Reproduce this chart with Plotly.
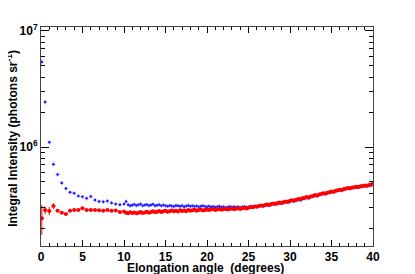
import plotly.graph_objects as go

# Elongation angle bin centres (degrees)
angle = [0.1, 0.5, 1.0, 1.5, 2.0, 2.5, 3.0, 3.5, 4.0, 4.5, 5.0, 5.5, 6.0, 6.5, 7.0, 7.5, 8.0, 8.5, 9.0, 9.5,
         10.0, 10.25, 10.5, 10.75, 11.0, 11.25, 11.5, 11.75, 12.0, 12.25, 12.5, 12.75, 13.0, 13.25, 13.5, 13.75,
         14.0, 14.25, 14.5, 14.75, 15.0, 15.25, 15.5, 15.75, 16.0, 16.25, 16.5, 16.75, 17.0, 17.25, 17.5, 17.75,
         18.0, 18.25, 18.5, 18.75, 19.0, 19.25, 19.5, 19.75, 20.0, 20.25, 20.5, 20.75, 21.0, 21.25, 21.5, 21.75,
         22.0, 22.25, 22.5, 22.75, 23.0, 23.25, 23.5, 23.75, 24.0, 24.25, 24.5, 24.75, 25.0, 25.25, 25.5, 25.75,
         26.0, 26.25, 26.5, 26.75, 27.0, 27.25, 27.5, 27.75, 28.0, 28.25, 28.5, 28.75, 29.0, 29.25, 29.5, 29.75,
         30.0, 30.25, 30.5, 30.75, 31.0, 31.25, 31.5, 31.75, 32.0, 32.25, 32.5, 32.75, 33.0, 33.25, 33.5, 33.75,
         34.0, 34.25, 34.5, 34.75, 35.0, 35.25, 35.5, 35.75, 36.0, 36.25, 36.5, 36.75, 37.0, 37.25, 37.5, 37.75,
         38.0, 38.25, 38.5, 38.75, 39.0, 39.25, 39.5, 39.75, 40.0]

# Blue series, thousands of photons sr^-1
blue_k = [5400, 2440, 1100, 710, 580, 490, 440, 407, 400, 378, 373, 361, 375, 349, 340, 338, 342, 330, 322, 318,
          322, 340, 318, 312, 316, 320, 314, 318, 322, 312, 316, 319, 313, 317, 321, 312, 315, 318, 311, 316,
          312, 309, 314, 310, 307, 313, 311, 308, 312, 306, 310, 313, 308, 311, 307, 310, 305, 309, 312, 307,
          306, 309, 304, 307, 302, 306, 309, 303, 305, 300, 304, 307, 302, 305, 303, 306, 301, 304, 307, 303,
          303, 307, 304, 309, 306, 310, 313, 309, 314, 317, 314, 319, 322, 320, 325, 328, 326, 331, 335, 333,
          338, 343, 341, 347, 350, 347, 356, 360, 365, 362, 371, 375, 381, 378, 387, 391, 396, 393, 401, 405,
          411, 408, 416, 421, 426, 423, 431, 436, 440, 437, 444, 448, 451, 449, 455, 458, 461, 459, 466, 470, 476]

# Red series, thousands of photons sr^-1
red_k = [243, 286, 281, 310, 283, 272, 265, 283, 286, 286, 297, 286, 286, 286, 285, 283, 286, 282, 284, 276,
         278, 272, 268, 274, 270, 273, 269, 272, 275, 270, 273, 277, 271, 275, 279, 274, 277, 281, 276, 279,
         282, 277, 280, 284, 279, 282, 278, 285, 281, 284, 280, 286, 282, 285, 288, 283, 286, 289, 284, 287,
         290, 286, 289, 292, 287, 290, 293, 288, 291, 294, 289, 292, 295, 291, 294, 297, 293, 296, 299, 295,
         300, 304, 302, 307, 305, 310, 313, 311, 316, 319, 317, 322, 326, 324, 329, 332, 330, 336, 340, 338,
         344, 348, 346, 352, 357, 355, 361, 365, 370, 368, 375, 379, 385, 383, 390, 394, 399, 397, 404, 408,
         414, 412, 419, 424, 429, 427, 434, 438, 443, 441, 447, 451, 455, 453, 459, 462, 466, 464, 470, 474, 490]

x_title = "Elongation angle\u00a0\u00a0(degrees)"
y_title = "Integral Intensity (photons sr<sup>-1</sup>)"
y_tickvals = [1e6, 1e7]
y_ticktext = ["10<sup>6</sup>", "10<sup>7</sup>"]
x_tickvals = [0, 5, 10, 15, 20, 25, 30, 35, 40]

# relative errors of the first bins (rest use a constant)
red_err_first_up = [0.30, 0.08, 0.08, 0.06]
red_err_first_dn = [0.28, 0.08, 0.08, 0.06]
blue_err_first = [0.06, 0.05, 0.04]

blue = [v * 1000 for v in blue_k]
red = [v * 1000 for v in red_k]

def rel_list(first, n, rest):
    return [first[i] if i < len(first) else rest for i in range(n)]

n = len(angle)
blue_rel = rel_list(blue_err_first, n, 0.04)
red_up = rel_list(red_err_first_up, n, 0.015)
red_dn = rel_list(red_err_first_dn, n, 0.015)
xerr = [0.25 if a < 10 else 0.15 for a in angle]

fig = go.Figure()
fig.add_trace(go.Scatter(
    x=angle, y=blue, mode="markers",
    marker=dict(symbol="circle", size=2.5, color="#2020ff"),
    error_y=dict(type="data", array=[v * r for v, r in zip(blue, blue_rel)],
                 color="rgba(110,110,255,0.7)", thickness=1, width=0),
    error_x=dict(type="data", array=xerr, color="rgba(110,110,255,0.7)", thickness=1, width=0),
    showlegend=False))
fig.add_trace(go.Scatter(
    x=angle, y=red, mode="markers",
    marker=dict(symbol="circle", size=4, color="#ff0000"),
    error_y=dict(type="data", symmetric=False,
                 array=[v * r for v, r in zip(red, red_up)],
                 arrayminus=[v * r for v, r in zip(red, red_dn)],
                 color="#ff0000", thickness=1, width=0),
    error_x=dict(type="data", array=xerr, color="#ff0000", thickness=1, width=0),
    showlegend=False))

font_b = dict(family="Liberation Sans, Arial, sans-serif", size=12, color="black", weight=700)

minor_y = [2e5, 3e5, 4e5, 5e5, 6e5, 7e5, 8e5, 9e5, 2e6, 3e6, 4e6, 5e6, 6e6, 7e6, 8e6, 9e6]

# page body adds an 8px offset, so the figure is 407x266 with shifted margins
fig.update_layout(
    width=407, height=266,
    margin=dict(l=33, r=42, t=19, b=28, autoexpand=False),
    paper_bgcolor="white", plot_bgcolor="white",
    xaxis=dict(range=[0, 40], tickvals=x_tickvals,
               automargin=False,
               ticks="inside", ticklen=6, tickcolor="black", tickwidth=1,
               showline=True, linecolor="#444", linewidth=1, mirror="ticks",
               showgrid=False, zeroline=False,
               minor=dict(dtick=1, ticks="inside", ticklen=3, tickcolor="black", showgrid=False),
               tickfont=font_b),
    yaxis=dict(type="log", range=[5.147, 7.034],
               automargin=False,
               tickvals=y_tickvals, ticktext=y_ticktext,
               ticks="inside", ticklen=8, tickcolor="black", tickwidth=1,
               showline=True, linecolor="#444", linewidth=1, mirror="ticks",
               showgrid=False, zeroline=False,
               minor=dict(tickvals=minor_y, ticks="inside", ticklen=4, tickcolor="black", showgrid=False),
               tickfont=font_b),
    annotations=[
        dict(text=x_title, xref="paper", yref="paper", x=0.494, y=-0.10,
             xanchor="center", yanchor="middle", showarrow=False, font=font_b),
        dict(text=y_title, xref="paper", yref="paper", x=-0.087, y=0.49, textangle=-90,
             xanchor="center", yanchor="middle", showarrow=False, font=font_b),
    ],
)

fig.write_html("out.html")
